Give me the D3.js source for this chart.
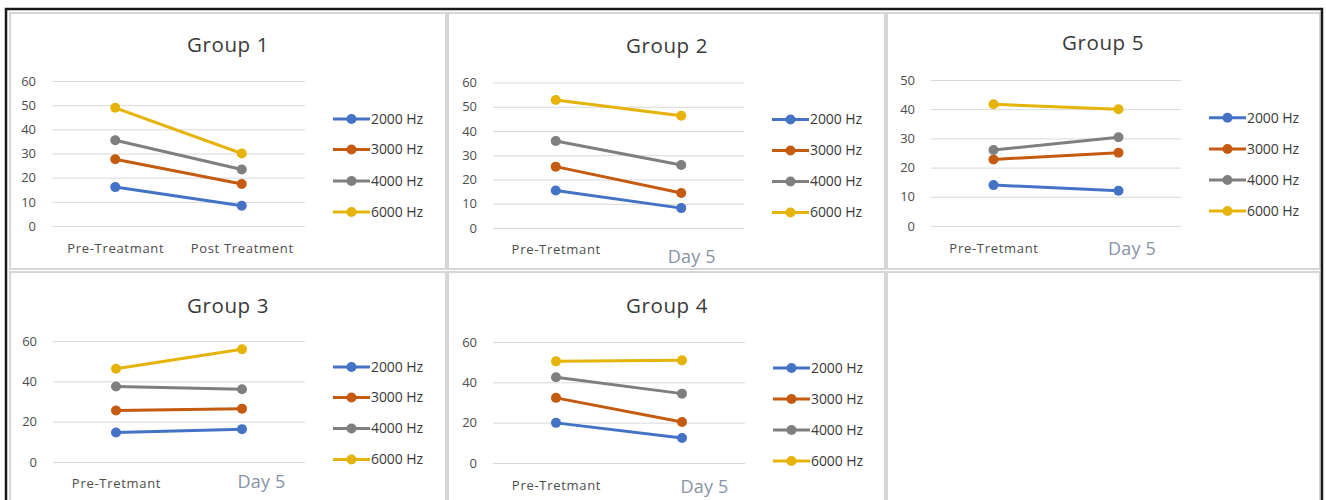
<!DOCTYPE html>
<html>
<head>
<meta charset="utf-8">
<script src="https://cdn.jsdelivr.net/npm/d3@7"></script>
<style>
  html, body { margin: 0; padding: 0; background: #fff; }
  svg { display: block; }
  text { font-family: "Open Sans", Lato, sans-serif; }
</style>
</head>
<body>
<svg id="chart" width="1326" height="500"></svg>
<script>
// Hearing thresholds per frequency, before treatment and after
const seriesNames = ["2000 Hz", "3000 Hz", "4000 Hz", "6000 Hz"];
const seriesColors = ["#4472C4", "#C55A11", "#7F7F7F", "#E6B30A"];

const categoriesGroup1 = ["Pre-Treatmant", "Post Treatment"];
const categoriesOther = ["Pre-Tretmant", "Day 5"];

// rows: 2000, 3000, 4000, 6000 Hz; columns: pre, post
const group1Values = [[16.1, 8.4], [27.6, 17.4], [35.5, 23.4], [48.9, 30.0]];
const group2Values = [[15.5, 8.2], [25.3, 14.4], [35.9, 26.0], [52.8, 46.3]];
const group5Values = [[14.0, 12.1], [22.8, 25.1], [26.0, 30.4], [41.7, 40.0]];
const group3Values = [[14.6, 16.3], [25.5, 26.4], [37.4, 36.1], [46.2, 55.9]];
const group4Values = [[19.9, 12.4], [32.3, 20.3], [42.5, 34.4], [50.4, 50.9]];

const ticksBy10To60 = [0, 10, 20, 30, 40, 50, 60];
const ticksBy10To50 = [0, 10, 20, 30, 40, 50];
const ticksBy20To60 = [0, 20, 40, 60];

// panel layout (pixels)
const panels = [
  { title: "Group 1", values: group1Values, cats: categoriesGroup1, ticks: ticksBy10To60,
    box: [10, 13, 436, 256], plot: { x0: 52, x1: 305, y0: 226, y1: 81 }, titleX: 228, titleY: 52,
    legX: 333, legY: [119, 149.5, 181, 212], catY: 253, lastDx: 0, lastDy: 0, lastBig: false },
  { title: "Group 2", values: group2Values, cats: categoriesOther, ticks: ticksBy10To60,
    box: [448, 13, 437, 256], plot: { x0: 493, x1: 744, y0: 228, y1: 82.5 }, titleX: 667, titleY: 53,
    legX: 772, legY: [119.5, 150.5, 181.5, 212.5], catY: 254, lastDx: 10, lastDy: 9, lastBig: true },
  { title: "Group 5", values: group5Values, cats: categoriesOther, ticks: ticksBy10To50,
    box: [887, 13, 433, 256], plot: { x0: 931, x1: 1181, y0: 226, y1: 80 }, titleX: 1103, titleY: 50,
    legX: 1209, legY: [117.7, 149, 180, 211], catY: 253, lastDx: 13, lastDy: 2, lastBig: true },
  { title: "Group 3", values: group3Values, cats: categoriesOther, ticks: ticksBy20To60,
    box: [10, 272, 436, 240], plot: { x0: 53, x1: 305, y0: 462, y1: 341 }, titleX: 228, titleY: 313,
    legX: 333, legY: [367, 397.5, 428.5, 459.5], catY: 488, lastDx: 19, lastDy: 0, lastBig: true },
  { title: "Group 4", values: group4Values, cats: categoriesOther, ticks: ticksBy20To60,
    box: [448, 272, 437, 240], plot: { x0: 493, x1: 745, y0: 463, y1: 342 }, titleX: 667, titleY: 313,
    legX: 773, legY: [368, 399, 430, 461], catY: 490, lastDx: 22, lastDy: 3, lastBig: true }
];

const svg = d3.select("#chart");

// empty sixth cell
svg.append("rect").attr("x", 887).attr("y", 272).attr("width", 433).attr("height", 240)
  .attr("fill", "#fff").attr("stroke", "#d6d6d6").attr("stroke-width", 2);

panels.forEach(p => {
  const g = svg.append("g");
  g.append("rect").attr("x", p.box[0]).attr("y", p.box[1]).attr("width", p.box[2]).attr("height", p.box[3])
    .attr("fill", "#fff").attr("stroke", "#d6d6d6").attr("stroke-width", 2);

  const yMax = d3.max(p.ticks);
  const x = d3.scalePoint().domain(p.cats).range([p.plot.x0, p.plot.x1]).padding(0.5);
  const y = d3.scaleLinear().domain([0, yMax]).range([p.plot.y0, p.plot.y1]);

  // title
  g.append("text").attr("x", p.titleX).attr("y", p.titleY).attr("text-anchor", "middle")
    .attr("font-size", 20.5).attr("letter-spacing", 0.6).attr("fill", "#3a3a3a").text(p.title);

  // value axis with gridlines
  const yAxis = d3.axisLeft(y).tickValues(p.ticks).tickSize(-(p.plot.x1 - p.plot.x0)).tickPadding(16);
  const ya = g.append("g").attr("transform", `translate(${p.plot.x0},0)`).call(yAxis);
  ya.select(".domain").remove();
  ya.selectAll(".tick line").attr("stroke", "#d9d9d9").attr("stroke-width", 1);
  ya.selectAll(".tick text").attr("fill", "#4d4d4d").attr("font-size", 13)
    .style("font-family", "'Open Sans', sans-serif");

  // category labels
  const xAxis = d3.axisBottom(x).tickSize(0).tickPadding(0);
  const xa = g.append("g").attr("transform", `translate(0,${p.catY})`).call(xAxis);
  xa.select(".domain").remove();
  xa.selectAll(".tick text")
    .attr("y", 0).attr("dy", 0)
    .style("font-family", "'Open Sans', sans-serif")
    .attr("fill", "#4d4d4d").attr("font-size", 13).attr("letter-spacing", 0.7)
    .each(function (d, i) {
      if (i === 1 && p.lastBig) {
        d3.select(this).attr("font-size", 18).attr("letter-spacing", 0.2).attr("fill", "#8793a6")
          .attr("dx", p.lastDx).attr("y", p.lastDy);
      }
    });

  // series lines and markers
  const line = d3.line().x((v, i) => x(p.cats[i])).y(v => y(v));
  p.values.forEach((vals, s) => {
    g.append("path").datum(vals).attr("d", line).attr("fill", "none")
      .attr("stroke", seriesColors[s]).attr("stroke-width", 3).attr("stroke-linecap", "round");
    g.selectAll(null).data(vals).enter().append("circle")
      .attr("cx", (v, i) => x(p.cats[i])).attr("cy", v => y(v)).attr("r", 5)
      .attr("fill", seriesColors[s]);
  });

  // legend
  seriesNames.forEach((name, s) => {
    const ly = p.legY[s];
    g.append("line").attr("x1", p.legX).attr("x2", p.legX + 37).attr("y1", ly).attr("y2", ly)
      .attr("stroke", seriesColors[s]).attr("stroke-width", 3);
    g.append("circle").attr("cx", p.legX + 18.5).attr("cy", ly).attr("r", 5).attr("fill", seriesColors[s]);
    g.append("text").attr("x", p.legX + 38).attr("y", ly).attr("dy", "0.35em")
      .attr("font-size", 14).attr("letter-spacing", -0.1).attr("fill", "#3a3a3a").text(name);
  });
});

// outer frame
svg.append("rect").attr("x", 6).attr("y", 9).attr("width", 1316).attr("height", 510)
  .attr("fill", "none").attr("stroke", "#1a1a1a").attr("stroke-width", 2.5);
</script>
</body>
</html>
